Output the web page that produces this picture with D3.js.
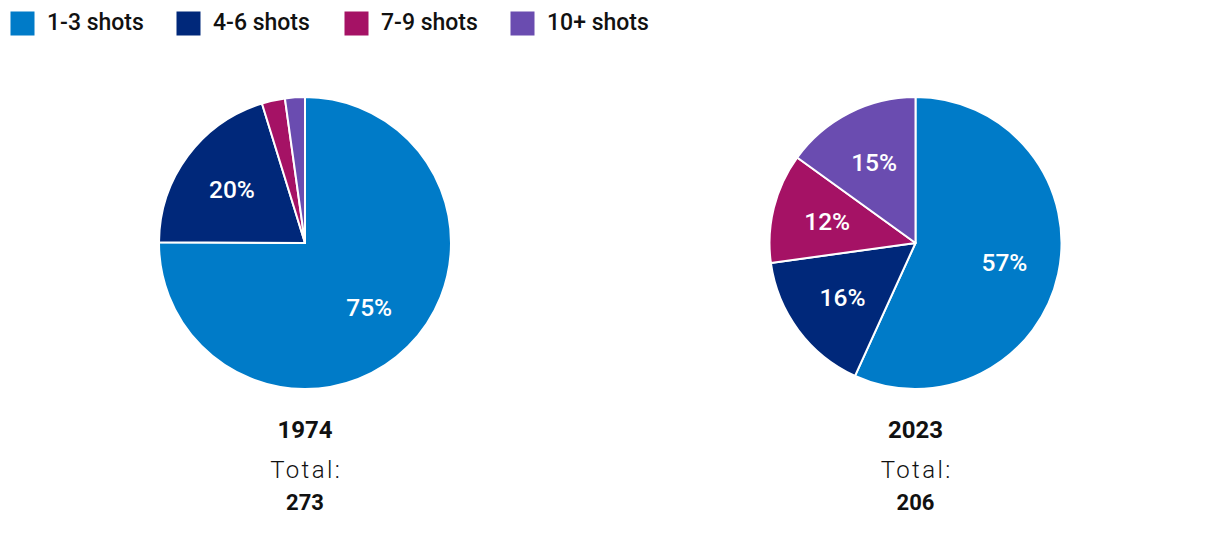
<!DOCTYPE html>
<html><head><meta charset="utf-8">
<script src="https://cdn.jsdelivr.net/npm/d3@7"></script>
<style>
body{margin:0;background:#fff;}
svg{display:block;font-family:Roboto,"Noto Sans",sans-serif;}
</style></head>
<body><svg id="c" width="1220" height="546"></svg>
<script>
const categories = ["1-3 shots","4-6 shots","7-9 shots","10+ shots"];
const colors = ["#007bc8","#00287a","#a51265","#6a4cb0"];
const years = ["1974","2023"];
const totals = [273, 206];
const counts1974 = [205, 55, 7, 6];
const counts2023 = [117, 33, 25, 31];
const pctLabels1974 = ["75%","20%","",""];
const pctLabels2023 = ["57%","16%","12%","15%"];

const svg = d3.select("#c");
const color = d3.scaleOrdinal().domain(categories).range(colors);

// legend
const legendX = [10, 176, 344, 510];
const lg = svg.append("g");
categories.forEach((c,i)=>{
  const g = lg.append("g").attr("transform",`translate(${legendX[i]},0)`);
  g.append("rect").attr("x",0.5).attr("y",11.5).attr("width",24).attr("height",24).attr("fill",color(c));
  g.append("text").attr("x",37).attr("y",30).attr("font-size",23).attr("font-weight",500)
   .attr("fill","#111").text(c);
});

const pies = [
  {cx:305, counts:counts1974, labels:pctLabels1974, year:years[0], total:totals[0]},
  {cx:915.5, counts:counts2023, labels:pctLabels2023, year:years[1], total:totals[1]}
];
const R = 146, cy = 243;
const pie = d3.pie().sort(null).value(d=>d.v);
const arc = d3.arc().innerRadius(0).outerRadius(R);
const labelArc = d3.arc().innerRadius(91).outerRadius(91);

pies.forEach(p=>{
  const data = categories.map((c,i)=>({c, v:p.counts[i], l:p.labels[i]}));
  const g = svg.append("g").attr("transform",`translate(${p.cx},${cy})`);
  const arcs = pie(data);
  g.selectAll("path").data(arcs).join("path")
    .attr("d",arc).attr("fill",d=>color(d.data.c))
    .attr("stroke","#fff").attr("stroke-width",2).attr("stroke-linejoin","round");
  g.selectAll("text.pct").data(arcs).join("text").attr("class","pct")
    .attr("transform",d=>`translate(${labelArc.centroid(d)})`)
    .attr("text-anchor","middle").attr("dy","0.36em")
    .attr("font-size",24.5).attr("font-weight",500).attr("fill","#fff")
    .text(d=>d.data.l);
  const t = svg.append("g").attr("transform",`translate(${p.cx},0)`).attr("text-anchor","middle").attr("fill","#111");
  t.append("text").attr("y",437.5).attr("font-size",24).attr("font-weight",700).text(p.year);
  t.append("text").attr("x",1.2).attr("y",477.5).attr("font-size",24).attr("font-weight",300)
    .attr("letter-spacing","2.4px").text("Total:");
  t.append("text").attr("y",510).attr("font-size",22).attr("font-weight",700).text(p.total);
});
</script></body></html>
